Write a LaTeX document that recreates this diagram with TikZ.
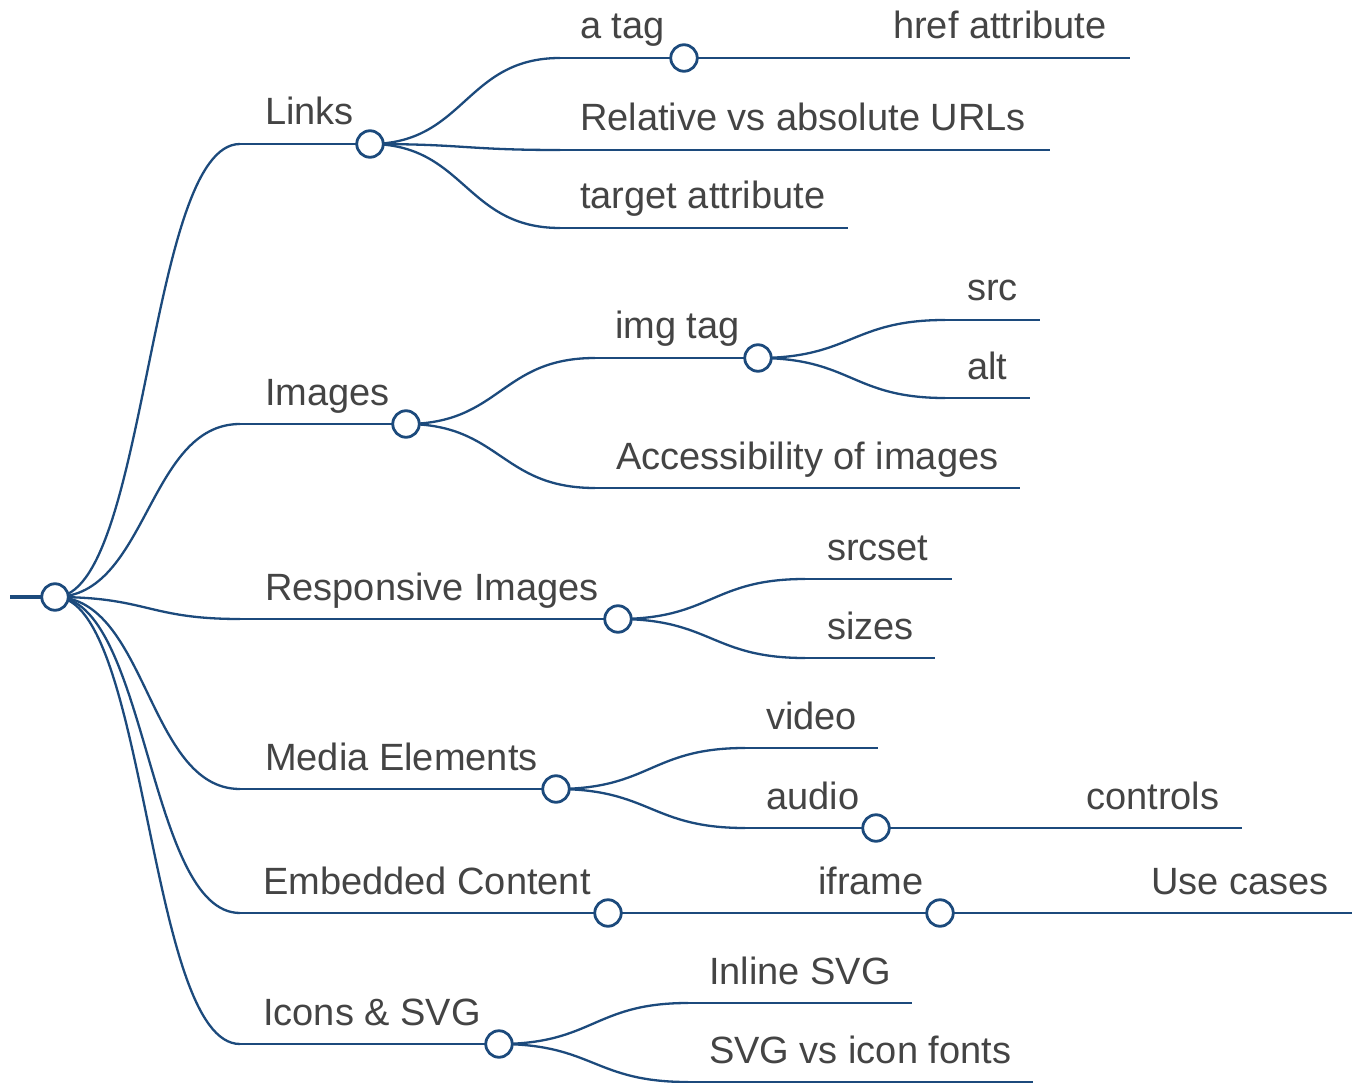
\documentclass[tikz,border=0pt]{standalone}
\usepackage{fontspec}
\setmainfont{Liberation Sans}
\usetikzlibrary{calc}
\definecolor{lc}{HTML}{1C4A7C}
\definecolor{tc}{HTML}{444444}
\newcommand\mlink[2]{\draw[linkc] let \p1=(#1), \p2=(#2) in (\p1) .. controls ({(\x1+\x2)/2},\y1) and ({(\x1+\x2)/2},\y2) .. (\p2);}
\begin{document}
\begin{tikzpicture}[x=1pt,y=-1pt,
  linkc/.style={draw=lc, line width=2.3pt},
  uline/.style={draw=lc, line width=2.6pt},
  rootline/.style={draw=lc, line width=3.4pt},
  dot/.style={circle, draw=lc, fill=white, line width=2.8pt, minimum size=26.5pt, inner sep=0pt},
  lab/.style={anchor=base west, inner sep=0pt, text=tc, font=\fontsize{38}{44}\selectfont}]
\useasboundingbox (0,0) rectangle (1355,1083);

% ---- coordinates ----
\coordinate (root-s) at (10,597);
\coordinate (root-c) at (55,597);
% level 1
\coordinate (links-s) at (240,144);  \coordinate (links-c) at (370,144);
\coordinate (img-s) at (240,424);    \coordinate (img-c) at (406,424);
\coordinate (resp-s) at (240,619);   \coordinate (resp-c) at (618,619);
\coordinate (media-s) at (240,789);  \coordinate (media-c) at (556,789);
\coordinate (emb-s) at (240,913);    \coordinate (emb-c) at (608,913);
\coordinate (icon-s) at (240,1044);  \coordinate (icon-c) at (499,1044);
% links children
\coordinate (atag-s) at (560,58);    \coordinate (atag-c) at (684,58);
\coordinate (href-s) at (873,58);    \coordinate (href-e) at (1130,58);
\coordinate (rel-s) at (560,150);    \coordinate (rel-e) at (1050,150);
\coordinate (targ-s) at (560,228);   \coordinate (targ-e) at (848,228);
% images children
\coordinate (imgtag-s) at (595,358); \coordinate (imgtag-c) at (758,358);
\coordinate (src-s) at (945,320);    \coordinate (src-e) at (1040,320);
\coordinate (alt-s) at (945,398);    \coordinate (alt-e) at (1030,398);
\coordinate (acc-s) at (595,488);    \coordinate (acc-e) at (1020,488);
% responsive children
\coordinate (srcset-s) at (805,579); \coordinate (srcset-e) at (952,579);
\coordinate (sizes-s) at (805,658);  \coordinate (sizes-e) at (935,658);
% media children
\coordinate (video-s) at (745,748);  \coordinate (video-e) at (878,748);
\coordinate (audio-s) at (745,828);  \coordinate (audio-c) at (876,828);
\coordinate (ctrl-s) at (1066,828);  \coordinate (ctrl-e) at (1242,828);
% embedded children
\coordinate (ifr-s) at (800,913);    \coordinate (ifr-c) at (940,913);
\coordinate (use-s) at (1136,913);   \coordinate (use-e) at (1352,913);
% icons children
\coordinate (inl-s) at (688,1003);   \coordinate (inl-e) at (912,1003);
\coordinate (svgf-s) at (688,1082);  \coordinate (svgf-e) at (1033,1082);

% ---- links (curves) ----
\mlink{root-c}{links-s}
\mlink{root-c}{img-s}
\mlink{root-c}{resp-s}
\mlink{root-c}{media-s}
\mlink{root-c}{emb-s}
\mlink{root-c}{icon-s}
\mlink{links-c}{atag-s}
\mlink{links-c}{rel-s}
\mlink{links-c}{targ-s}
\mlink{atag-c}{href-s}
\mlink{img-c}{imgtag-s}
\mlink{img-c}{acc-s}
\mlink{imgtag-c}{src-s}
\mlink{imgtag-c}{alt-s}
\mlink{resp-c}{srcset-s}
\mlink{resp-c}{sizes-s}
\mlink{media-c}{video-s}
\mlink{media-c}{audio-s}
\mlink{audio-c}{ctrl-s}
\mlink{emb-c}{ifr-s}
\mlink{ifr-c}{use-s}
\mlink{icon-c}{inl-s}
\mlink{icon-c}{svgf-s}

% ---- underlines ----
\draw[rootline] (root-s) -- (root-c);
\draw[uline] (links-s) -- (links-c);
\draw[uline] (img-s) -- (img-c);
\draw[uline] (resp-s) -- (resp-c);
\draw[uline] (media-s) -- (media-c);
\draw[uline] (emb-s) -- (emb-c);
\draw[uline] (icon-s) -- (icon-c);
\draw[uline] (atag-s) -- (atag-c);
\draw[uline] (href-s) -- (href-e);
\draw[uline] (rel-s) -- (rel-e);
\draw[uline] (targ-s) -- (targ-e);
\draw[uline] (imgtag-s) -- (imgtag-c);
\draw[uline] (src-s) -- (src-e);
\draw[uline] (alt-s) -- (alt-e);
\draw[uline] (acc-s) -- (acc-e);
\draw[uline] (srcset-s) -- (srcset-e);
\draw[uline] (sizes-s) -- (sizes-e);
\draw[uline] (video-s) -- (video-e);
\draw[uline] (audio-s) -- (audio-c);
\draw[uline] (ctrl-s) -- (ctrl-e);
\draw[uline] (ifr-s) -- (ifr-c);
\draw[uline] (use-s) -- (use-e);
\draw[uline] (inl-s) -- (inl-e);
\draw[uline] (svgf-s) -- (svgf-e);

% ---- dots ----
\node[dot] (root-d) at (root-c) {};
\node[dot] (links-d) at (links-c) {};
\node[dot] (img-d) at (img-c) {};
\node[dot] (resp-d) at (resp-c) {};
\node[dot] (media-d) at (media-c) {};
\node[dot] (emb-d) at (emb-c) {};
\node[dot] (icon-d) at (icon-c) {};
\node[dot] (atag-d) at (atag-c) {};
\node[dot] (imgtag-d) at (imgtag-c) {};
\node[dot] (audio-d) at (audio-c) {};
\node[dot] (ifr-d) at (ifr-c) {};

% ---- labels ----
\node[lab] (links-t) at (265,125) {Links};
\node[lab] (img-t) at (265,405) {Images};
\node[lab] (resp-t) at (265,600) {Responsive Images};
\node[lab] (media-t) at (265,770) {Media Elements};
\node[lab] (emb-t) at (263,894) {Embedded Content};
\node[lab] (icon-t) at (263,1025) {Icons \& SVG};
\node[lab] (atag-t) at (580,39) {a tag};
\node[lab] (href-t) at (893,39) {href attribute};
\node[lab] (rel-t) at (580,131) {Relative vs absolute URLs};
\node[lab] (targ-t) at (580,209) {target attribute};
\node[lab] (imgtag-t) at (615,339) {img tag};
\node[lab] (src-t) at (967,301) {src};
\node[lab] (alt-t) at (967,379) {alt};
\node[lab] (acc-t) at (616,469) {Accessibility of images};
\node[lab] (srcset-t) at (827,560) {srcset};
\node[lab] (sizes-t) at (827,639) {sizes};
\node[lab] (video-t) at (766,729) {video};
\node[lab] (audio-t) at (766,809) {audio};
\node[lab] (ctrl-t) at (1086,809) {controls};
\node[lab] (ifr-t) at (818,894) {iframe};
\node[lab] (use-t) at (1151,894) {Use cases};
\node[lab] (inl-t) at (709,984) {Inline SVG};
\node[lab] (svgf-t) at (709,1063) {SVG vs icon fonts};
\end{tikzpicture}
\end{document}
